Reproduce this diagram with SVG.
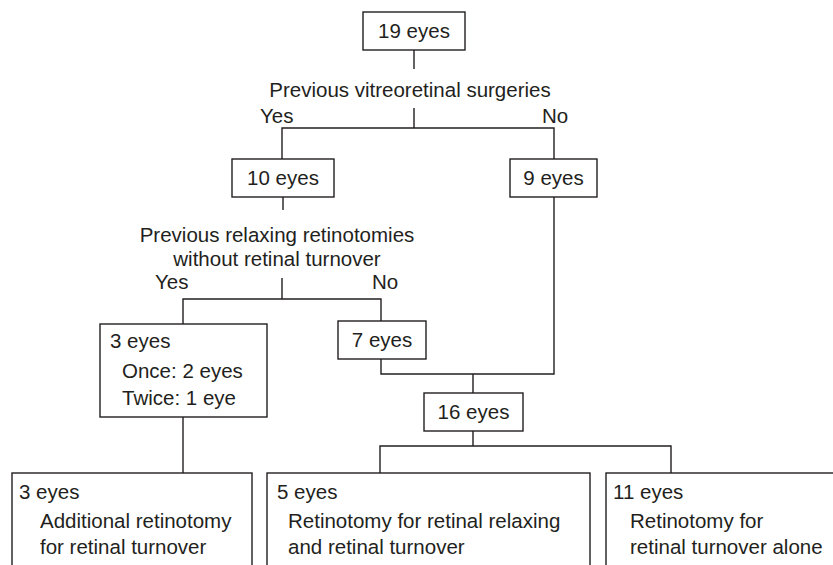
<svg xmlns="http://www.w3.org/2000/svg" width="833" height="565" viewBox="0 0 833 565">
<style>
.box{fill:#fff;stroke:#231f20;stroke-width:1.4}
.ln{fill:none;stroke:#231f20;stroke-width:1.4}
text{font-family:"Liberation Sans",Arial,sans-serif;font-size:20.5px;fill:#231f20}
.c{text-anchor:middle}
</style>
<rect width="833" height="565" fill="#fff"/>
<g id="connectors">
<path class="ln" d="M414 50V69"/>
<path class="ln" d="M414 108V128M282 159V128H554V159"/>
<path class="ln" d="M283 197V210"/>
<path class="ln" d="M282 278V299M183 324V299H381V321"/>
<path class="ln" d="M381 359V374H554V197M473 374V393"/>
<path class="ln" d="M183 417V473"/>
<path class="ln" d="M473 431V446M380 473V446H671V473"/>
</g>
<g id="labels">
<text x="410" y="97" class="c">Previous vitreoretinal surgeries</text>
<text x="260" y="123">Yes</text>
<text x="542" y="123">No</text>
<text x="277" y="242" class="c">Previous relaxing retinotomies</text>
<text x="277" y="266" class="c">without retinal turnover</text>
<text x="155" y="289">Yes</text>
<text x="372" y="289">No</text>
</g>
<g id="n19"><rect class="box" x="363" y="12" width="102" height="38"/><text x="414" y="38" class="c">19 eyes</text></g>
<g id="n10"><rect class="box" x="232" y="159" width="102" height="38"/><text x="283" y="185" class="c">10 eyes</text></g>
<g id="n9"><rect class="box" x="510" y="159" width="87" height="38"/><text x="553.5" y="185" class="c">9 eyes</text></g>
<g id="n3a"><rect class="box" x="100" y="324" width="167" height="93"/><text x="110" y="348">3 eyes</text><text x="122" y="378">Once: 2 eyes</text><text x="122" y="405">Twice: 1 eye</text></g>
<g id="n7"><rect class="box" x="338" y="321" width="88" height="38"/><text x="382" y="347" class="c">7 eyes</text></g>
<g id="n16"><rect class="box" x="424" y="393" width="99" height="38"/><text x="473.5" y="419" class="c">16 eyes</text></g>
<g id="n3b"><rect class="box" x="12" y="473" width="240" height="100"/><text x="19" y="499">3 eyes</text><text x="40" y="528">Additional retinotomy</text><text x="40" y="554">for retinal turnover</text></g>
<g id="n5"><rect class="box" x="267" y="473" width="323" height="100"/><text x="277" y="499">5 eyes</text><text x="288" y="528">Retinotomy for retinal relaxing</text><text x="288" y="554">and retinal turnover</text></g>
<g id="n11"><rect class="box" x="606" y="473" width="240" height="100"/><text x="613" y="499">11 eyes</text><text x="630" y="528">Retinotomy for</text><text x="630" y="554">retinal turnover alone</text></g>
</svg>
